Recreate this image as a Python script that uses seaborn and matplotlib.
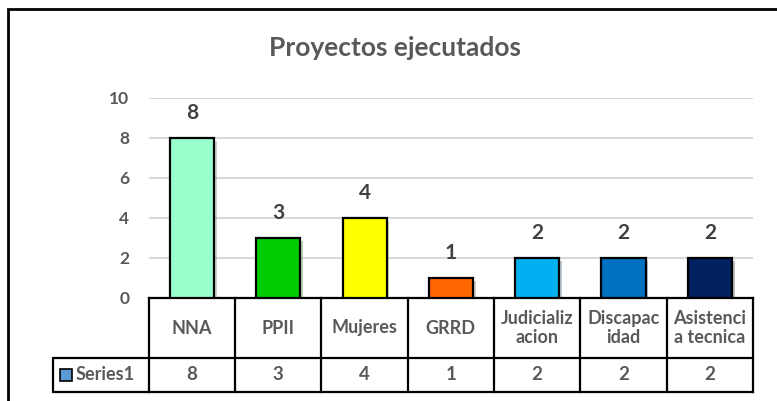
import matplotlib
matplotlib.use("Agg")
import matplotlib.patheffects as pe
import seaborn as sns
from matplotlib import pyplot as plt
from matplotlib.patches import Rectangle

categories = ["NNA", "PPII", "Mujeres", "GRRD", "Judicializacion",
              "Discapacidad", "Asistencia tecnica"]
table_labels = ["NNA", "PPII", "Mujeres", "GRRD", "Judicializ\nacion",
                "Discapac\nidad", "Asistenci\na tecnica"]
values = [8, 3, 4, 1, 2, 2, 2]
colors = ["#99FFCC", "#00CC00", "#FFFF00", "#FF6600", "#00B0F0",
          "#0070C0", "#002060"]
series_name = "Series1"
yticks = [0, 2, 4, 6, 8, 10]

sns.set_theme(style="white")
plt.rcParams["font.family"] = ["Lato", "DejaVu Sans"]
grey = "#595959"

fig = plt.figure(figsize=(7.77, 4.01), dpi=100)
ax = fig.add_axes([148.7 / 777, 103 / 401, 604.3 / 777, 200 / 401])

sns.barplot(x=categories, y=values, hue=categories, palette=colors,
            saturation=1, legend=False, width=0.51, edgecolor="black",
            linewidth=1.6, ax=ax, zorder=3)
for bar in ax.patches:
    bar.set_path_effects([pe.SimplePatchShadow(offset=(2, -2), alpha=0.25),
                          pe.Normal()])

ax.set_ylim(0, 10)
ax.set_xlim(-0.5, len(categories) - 0.5)
ax.set_yticks(yticks)
ax.set_yticklabels([str(t) for t in yticks], fontsize=12.5,
                   fontweight="bold", color=grey)
ax.tick_params(axis="y", length=0, pad=14)
ax.set_xticks([])
ax.set_xlabel("")
ax.set_ylabel("")
ax.grid(axis="y", color="#d9d9d9", linewidth=1.5, zorder=0)
for s in ax.spines.values():
    s.set_visible(False)

# data labels
for i, v in enumerate(values):
    ax.annotate(str(v), (i, v), xytext=(0, 11), textcoords="offset points",
                ha="center", va="bottom", fontsize=15, fontweight="bold",
                color="#404040")

# data table below the axis
tr = ax.get_xaxis_transform()
row_mid = -0.30
bottom = -0.47
lk = dict(color="black", linewidth=1.6, clip_on=False, transform=tr,
          solid_capstyle="projecting")
n = len(categories)
ax.plot([-0.5, n - 0.5], [0, 0], **lk)
ax.plot([-0.5, n - 0.5], [row_mid, row_mid], **lk)
ax.plot([-0.5, n - 0.5], [bottom, bottom], **lk)
for k in range(n + 1):
    ax.plot([k - 0.5, k - 0.5], [0, bottom], **lk)
for i, (lab, v) in enumerate(zip(table_labels, values)):
    ax.text(i, row_mid / 2, lab, transform=tr, ha="center", va="center",
            fontsize=13, fontweight="bold", color=grey, linespacing=1.1)
    ax.text(i, (row_mid + bottom) / 2, str(v), transform=tr, ha="center",
            va="center", fontsize=13.5, fontweight="bold", color=grey)

# row header box for the series
left = -95.7 / 604.3
ta = ax.transAxes
ax.plot([left, 0], [row_mid, row_mid], color="black", lw=1.6,
        clip_on=False, transform=ta)
ax.plot([left, 0], [bottom, bottom], color="black", lw=1.6,
        clip_on=False, transform=ta)
ax.plot([left, left], [row_mid, bottom], color="black", lw=1.6,
        clip_on=False, transform=ta)
ax.add_patch(Rectangle((left + 7 / 604.3, (row_mid + bottom) / 2 - 6 / 200),
                       12 / 604.3, 12 / 200, transform=ta, clip_on=False,
                       facecolor="#5B9BD5", edgecolor="black", lw=1.2))
ax.text(left + 23 / 604.3, (row_mid + bottom) / 2, series_name,
        transform=ta, ha="left", va="center", fontsize=13,
        fontweight="bold", color=grey)

fig.text(395 / 777, 1 - 48 / 401, "Proyectos ejecutados", ha="center",
         va="center", fontsize=19, fontweight="bold", color=grey)

# chart frame (cropped at right and bottom in the source)
fig.patches.append(Rectangle((7.5 / 777, -0.2), 1.2, 1.2 - 8.5 / 401,
                             transform=fig.transFigure, fill=False,
                             edgecolor="black", lw=2))

fig.savefig("out.png", dpi=100)
